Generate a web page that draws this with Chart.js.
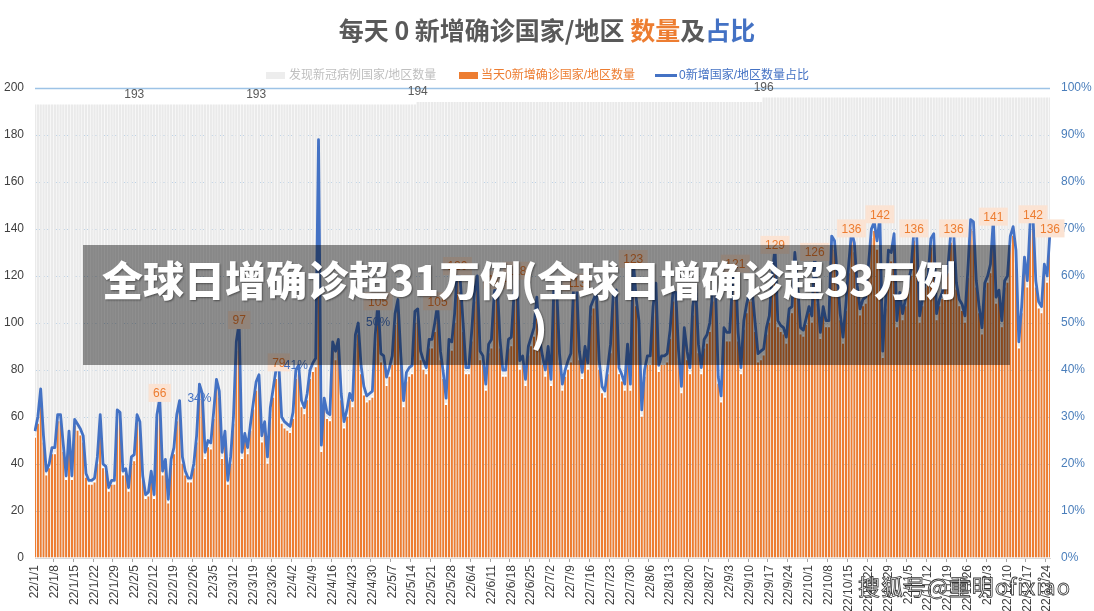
<!DOCTYPE html>
<html><head><meta charset="utf-8">
<script src="https://cdn.jsdelivr.net/npm/chart.js@4.4.0/dist/chart.umd.min.js"></script>
<style>
html,body{margin:0;padding:0;background:#fff;}
#wrap{position:relative;width:1094px;height:611px;overflow:hidden;background:#fff;}
#c{position:absolute;left:0;top:0;}
#title{position:absolute;left:0;top:12px;width:1094px;text-align:center;font:700 25px "Noto Sans CJK SC",sans-serif;color:#595959;line-height:34px;white-space:nowrap;}
.lg{position:absolute;font:12px "Liberation Sans","Noto Sans CJK SC",sans-serif;line-height:16px;top:67px;white-space:nowrap;}
.sw{position:absolute;}
#band{position:absolute;left:83px;top:245px;width:927px;height:120px;background:rgba(0,0,0,0.42);}
.bt{position:absolute;color:#fff;font:900 41px "Noto Sans CJK SC",sans-serif;line-height:48px;white-space:nowrap;text-shadow:1px 1px 2px rgba(0,0,0,0.45);}
#wm{position:absolute;left:858px;top:569px;color:#fff;font:400 22px "Noto Sans CJK SC",sans-serif;white-space:nowrap;-webkit-text-stroke:0.8px #333;letter-spacing:1px;}
</style></head>
<body><div id="wrap">
<canvas id="c" width="1094" height="611"></canvas>
<div id="title">每天 0 新增确诊国家/地区 <span style="color:#ED7D31">数量</span>及<span style="color:#4472C4">占比</span></div>
<div class="sw" style="left:266px;top:72px;width:19px;height:7px;background:#EDEDED"></div>
<div class="lg" style="left:289px;color:#BFBFBF">发现新冠病例国家/地区数量</div>
<div class="sw" style="left:459px;top:72px;width:19px;height:7px;background:#ED7D31"></div>
<div class="lg" style="left:481px;color:#ED7D31">当天0新增确诊国家/地区数量</div>
<div class="sw" style="left:655px;top:74px;width:22px;height:3px;background:#4472C4"></div>
<div class="lg" style="left:679px;color:#4472C4">0新增国家/地区数量占比</div>
<div id="band"></div>
<div class="bt" style="left:102px;top:254px">全球日增确诊超31万例(全球日增确诊超33万例</div>
<div class="bt" style="left:531px;top:301px">)</div>
<div id="wm">搜狐号@重明ofixiao</div>
</div>
<script>
// ---- data ----
const startDate = [2022, 1, 1];
const dayCount = 359;
const greyRuns = [{value:193, days:135},{value:194, days:122},{value:196, days:102}];
const orange = [
52,58,69,50,36,39,45,45,59,59,
46,34,52,34,57,55,53,50,35,32,
32,33,41,59,39,38,29,32,32,61,
60,36,37,29,41,42,59,56,34,26,
27,36,26,59,66,36,41,24,41,45,
59,65,41,36,33,33,39,50,71,68,
43,48,47,60,73,69,43,52,32,41,
58,89,97,43,51,45,55,64,72,75,
50,56,41,62,69,77,79,58,56,55,
54,60,77,79,65,62,68,77,80,82,
172,46,66,60,59,89,85,90,68,56,
61,68,65,92,96,79,70,67,68,69,
92,105,84,83,74,78,83,100,106,84,
65,76,78,79,101,103,85,81,79,90,
90,97,105,85,77,66,90,89,101,120,
114,97,79,79,93,110,116,85,83,72,
88,90,110,114,90,78,78,90,91,110,
118,81,83,74,87,91,95,108,90,83,
78,87,74,112,112,84,72,78,81,84,
113,113,85,77,87,81,104,107,110,81,
71,69,79,88,110,111,79,76,72,88,
72,123,108,98,61,78,83,83,104,113,
80,83,83,84,94,110,110,85,71,95,
85,79,104,113,88,79,90,92,97,110,
113,75,67,95,93,93,113,121,93,79,
98,105,110,110,97,84,85,87,96,101,
118,129,99,97,96,92,104,105,127,114,
96,95,100,105,101,126,109,94,105,99,
99,134,132,118,102,92,106,122,136,131,
114,104,108,109,122,137,140,132,142,86,
107,128,127,135,99,111,102,108,115,121,
136,134,101,108,116,118,133,135,102,108,
111,116,122,135,136,115,108,106,101,120,
141,140,116,105,96,115,118,122,141,109,
112,99,116,118,134,138,128,90,105,125,
116,140,142,116,107,105,122,118,136
];
const pct = [
27,30,36,26,18.5,20,23.5,23.5,30.5,30.5,
24,17.5,27,17.5,29.5,28.5,27.5,26,18,16.5,
16.5,17,21.5,30.5,20,19.5,15,16.5,16.5,31.5,
31,18.5,19,15,21.5,22,30.5,29,17.5,13.5,
14,18.5,13.5,30.5,34,18.5,21,12.5,21,23.5,
30.5,33.5,21.5,18.5,17,17,20,26,37,35,
22.5,25,24.5,31,38,35.5,22.5,27,16.5,21.5,
30,46,50,22.5,26.5,23.5,28.5,33,37.5,39,
26,29,21.5,32,36,40,41,30,29,28.5,
28,31,40,41,33.5,32,35,40,41.5,42.5,
89,24,34,31,30.5,46,44,46.5,35,29,
31.5,35,33.5,47.5,50,41,36.5,34.5,35,35.5,
47.5,54.5,43.5,43,38.5,40.5,43,52,55,43.5,
33.5,39.5,40.5,41,52.5,53,44,42,40.5,46.5,
46.5,50,54,44,39.5,34,46.5,46,52,62,
59,50,40.5,40.5,48,56.5,60,44,43,37,
45.5,46.5,56.5,59,46.5,40,40,46.5,47,56.5,
61,42,43,38,45,47,49,55.5,46.5,43,
40,45,38,57.5,57.5,43.5,37,40,42,43.5,
58,58.5,44,39.5,45,41.5,53.5,55,56.5,42,
36.5,35.5,40.5,45.5,56.5,57,40.5,39,37,45.5,
37,63.5,55.5,50.5,31.5,40,43,43,53.5,58.5,
41,43,43,43.5,48.5,56.5,56.5,44,36.5,49,
44,40.5,53.5,58,45.5,40.5,46.5,47.5,50,56.5,
58,38.5,34.5,49,48,48,58,62.5,48,40.5,
50.5,54,56.5,56.5,50,43.5,44,44.5,49,51.5,
60,66,50.5,49.5,49,47,53,53.5,65,58,
49,48.5,51,53.5,51.5,64.5,55.5,48,53.5,50.5,
50.5,68.5,67.5,60,52,47,54,62.5,69.5,67,
58,53,55,55.5,62.5,70,71.5,67.5,72.5,44,
54.5,65.5,65,69,50.5,56.5,52,55,58.5,61.5,
69.5,68.5,51.5,55,59,60,68,69,52,55,
56.5,59,62,69,69.5,58.5,55,54,51.5,61,
72,71.5,59,53.5,49,58.5,60,62.5,72,55.5,
57,50.5,59,60,68.5,70.5,65.5,46,53.5,64,
59,71.5,72.5,59,54.5,53.5,62.5,60,69.5
];
const greyLabelIdx = [35, 78, 135, 257];
const orangeLabelIdx = [44,72,86,121,142,149,163,170,191,211,247,261,275,288,298,310,324,338,352,358];
const pctLabels = [{i:58, v:34},{i:92, v:41},{i:121, v:50}];
const leftTicks = [0,20,40,60,80,100,120,140,160,180,200];
const rightTicks = [0,10,20,30,40,50,60,70,80,90,100];

// ---- build ----
const categories = [];
{
  const d = new Date(startDate[0], startDate[1]-1, startDate[2]);
  for (let k=0;k<dayCount;k++){
    categories.push(String(d.getFullYear()%100)+'/'+(d.getMonth()+1)+'/'+d.getDate());
    d.setDate(d.getDate()+1);
  }
}
const grey = [];
greyRuns.forEach(r=>{ for(let k=0;k<r.days;k++) grey.push(r.value); });

Chart.defaults.font.family = '"Liberation Sans", Arial, "Noto Sans CJK SC", sans-serif';

const labelPlugin = {
  id:'labels',
  beforeDatasetsDraw(chart){
    const {ctx, chartArea:a, scales:{y}} = chart;
    ctx.save();
    ctx.strokeStyle = '#9DC3E6'; ctx.lineWidth = 1.5;
    const py = Math.round(y.getPixelForValue(200))+0.5;
    ctx.beginPath(); ctx.moveTo(a.left, py); ctx.lineTo(a.right, py); ctx.stroke();
    ctx.restore();
  },
  afterDatasetsDraw(chart){
    const {ctx, scales:{x, y, y2}} = chart;
    ctx.save();
    ctx.font = '12px "Liberation Sans", Arial, sans-serif';
    ctx.textAlign='center'; ctx.textBaseline='middle';
    ctx.fillStyle='#595959';
    greyLabelIdx.forEach(i=>{ ctx.fillText(String(grey[i]), x.getPixelForValue(i), y.getPixelForValue(grey[i]) - 10); });
    orangeLabelIdx.forEach(i=>{
      const t = String(orange[i]);
      const px = x.getPixelForValue(i), py = y.getPixelForValue(orange[i]) - 10;
      const w = ctx.measureText(t).width + 9, h = 18;
      ctx.fillStyle = '#FBE3D3';
      ctx.fillRect(px - w/2, py - h/2, w, h);
      ctx.fillStyle = '#ED7D31';
      ctx.fillText(t, px, py+1);
    });
    ctx.fillStyle = '#4472C4';
    pctLabels.forEach(p=>{ ctx.fillText(p.v+'%', x.getPixelForValue(p.i), y2.getPixelForValue(p.v)); });
    ctx.restore();
  }
};

new Chart(document.getElementById('c'), {
  type:'bar',
  data:{
    labels: categories,
    datasets:[
      {type:'line', label:'0新增国家/地区数量占比', data:pct, yAxisID:'y2', borderColor:'#4472C4', borderWidth:2.8, pointRadius:0, tension:0, order:0, borderJoinStyle:'round'},
      {label:'当天0新增确诊国家/地区数量', data:orange, yAxisID:'y', backgroundColor:'#ED7D31', borderColor:'#ffffff', borderWidth:{top:2,left:0,right:0,bottom:0}, borderSkipped:'bottom', grouped:false, barPercentage:0.8, categoryPercentage:1, order:1},
      {label:'发现新冠病例国家/地区数量', data:grey, yAxisID:'y', backgroundColor:'#EAEAEA', borderWidth:0, grouped:false, barPercentage:0.8, categoryPercentage:1, order:2}
    ]
  },
  options:{
    responsive:false, animation:false,
    layout:{padding:{top:88,left:0,right:0,bottom:0}},
    plugins:{legend:{display:false}, title:{display:false}, tooltip:{enabled:false}},
    scales:{
      x:{
        offset:false,
        grid:{drawOnChartArea:false, drawTicks:true, tickLength:4, color:(c)=> (c.index%7===0 ? '#a6a6a6' : 'rgba(0,0,0,0)')},
        border:{display:true, color:'#d9d9d9'},
        ticks:{autoSkip:false, minRotation:90, maxRotation:90, padding:3, color:'#404040', font:{size:12},
          callback:(v,i)=> (i%7===0 ? categories[i] : '')},
        afterFit:(s)=>{ s.height = 53; }
      },
      y:{
        position:'left', min:0, max:200,
        afterBuildTicks:(s)=>{ s.ticks = leftTicks.map(v=>({value:v})); },
        grid:{color:(c)=> (c.tick && c.tick.value===200 ? 'rgba(0,0,0,0)' : '#9DC3E6'), drawTicks:false},
        border:{display:false, dash:[2,2]},
        ticks:{padding:11, color:'#404040', font:{size:12}},
        afterFit:(s)=>{ s.width = 35; }
      },
      y2:{
        position:'right', min:0, max:100,
        afterBuildTicks:(s)=>{ s.ticks = rightTicks.map(v=>({value:v})); },
        grid:{display:false, drawTicks:false},
        border:{display:false},
        ticks:{padding:11, color:'#4A7EBB', font:{size:12}, callback:(v)=> v+'%'},
        afterFit:(s)=>{ s.width = 44; }
      }
    }
  },
  plugins:[labelPlugin]
});
</script>
</body></html>
